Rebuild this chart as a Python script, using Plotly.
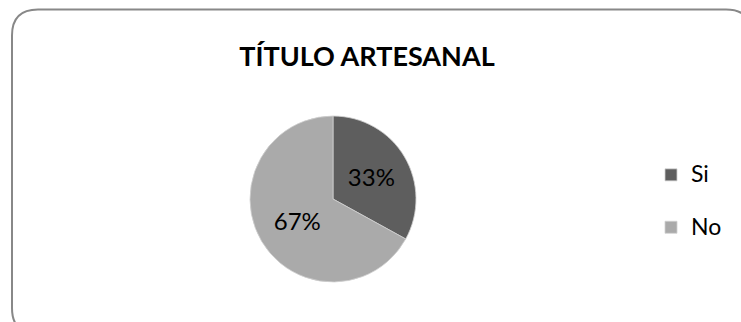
import plotly.graph_objects as go

# Chart data
labels = ["Si", "No"]
values = [33, 67]
colors = ["#5e5e5e", "#aaaaaa"]
title_text = "TÍTULO ARTESANAL"

W, H = 741, 322
FONT = "Lato"


def px_x(v):
    return v / W


def px_y(v):
    return 1 - v / H


def rounded_rect(x0, y0, x1, y1, r):
    """SVG path for a rounded rectangle given in pixel coordinates, returned in paper units."""
    pts = [
        ("M", x0 + r, y0),
        ("L", x1 - r, y0),
        ("Q", x1, y0, x1, y0 + r),
        ("L", x1, y1 - r),
        ("Q", x1, y1, x1 - r, y1),
        ("L", x0 + r, y1),
        ("Q", x0, y1, x0, y1 - r),
        ("L", x0, y0 + r),
        ("Q", x0, y0, x0 + r, y0),
    ]
    out = []
    for p in pts:
        cmd, coords = p[0], p[1:]
        pairs = []
        for i in range(0, len(coords), 2):
            pairs.append(f"{px_x(coords[i]):.5f},{px_y(coords[i + 1]):.5f}")
        out.append(cmd + " ".join(pairs))
    return " ".join(out) + " Z"


# legend entries: larger label text, with a blank second line for wider row spacing
legend_names = [f"<span style='font-size:23px'>{l}</span><br> " for l in labels]

fig = go.Figure(
    go.Pie(
        labels=legend_names,
        values=values,
        sort=False,
        direction="clockwise",
        rotation=0,
        marker=dict(colors=colors, line=dict(color="#d0d0d0", width=0.8)),
        textinfo="percent",
        textposition="inside",
        insidetextorientation="horizontal",
        textfont=dict(family=FONT, size=24, color="#000000"),
        domain=dict(x=[px_x(250), px_x(416)], y=[px_y(282), px_y(116)]),
        hoverinfo="skip",
    )
)

fig.update_layout(
    width=W,
    height=H,
    margin=dict(l=0, r=0, t=0, b=0),
    paper_bgcolor="white",
    plot_bgcolor="white",
    title=dict(
        text=f"<b>{title_text}</b>",
        x=px_x(367),
        xanchor="center",
        y=px_y(57),
        yanchor="middle",
        font=dict(family=FONT, size=27, color="#000000"),
    ),
    legend=dict(
        x=px_x(651),
        xanchor="left",
        y=px_y(156),
        yanchor="top",
        valign="top",
        font=dict(family=FONT, size=19, color="#000000"),
        bgcolor="rgba(0,0,0,0)",
    ),
    shapes=[
        dict(
            type="path",
            xref="paper",
            yref="paper",
            path=rounded_rect(12, 9.5, 752, 334, 26),
            line=dict(color="#888888", width=2),
            fillcolor="rgba(0,0,0,0)",
        )
    ],
)

fig.write_html("out.html")
